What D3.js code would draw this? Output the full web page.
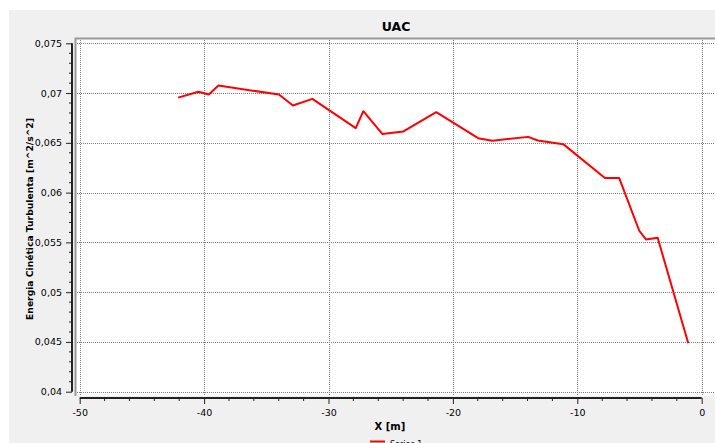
<!DOCTYPE html>
<html>
<head>
<meta charset="utf-8">
<script src="https://cdn.jsdelivr.net/npm/d3@7"></script>
<style>
  body { margin: 0; background: #fff; }
  svg { display: block; }
  text { font-family: "DejaVu Sans", Verdana, sans-serif; fill: #000; }
</style>
</head>
<body>
<div id="chart"></div>
<script>
// Series 1
var xValues = [-42.09, -40.46, -39.62, -38.85, -33.98, -32.86, -31.30, -27.81, -27.20, -25.68,
               -23.98, -21.34, -17.97, -16.83, -13.95, -13.17, -11.13, -7.78, -6.63, -5.02,
               -4.48, -3.54, -1.08];
var yValues = [0.06954, 0.07014, 0.06986, 0.07075, 0.06985, 0.06875, 0.06942, 0.06648, 0.06818, 0.06589,
               0.06615, 0.06808, 0.06547, 0.06522, 0.06560, 0.06523, 0.06487, 0.06146, 0.06146, 0.05617,
               0.05530, 0.05546, 0.04486];
var xTicks = [-50, -40, -30, -20, -10, 0];
var yTicks = [0.04, 0.045, 0.05, 0.055, 0.06, 0.065, 0.07, 0.075];
var xMinor = [-48, -46, -44, -42, -38, -36, -34, -32, -28, -26, -24, -22, -18, -16, -14, -12, -8, -6, -4, -2];
var yMinor = [0.041, 0.042, 0.043, 0.044, 0.046, 0.047, 0.048, 0.049, 0.051, 0.052, 0.053, 0.054,
              0.056, 0.057, 0.058, 0.059, 0.061, 0.062, 0.063, 0.064, 0.066, 0.067, 0.068, 0.069,
              0.071, 0.072, 0.073, 0.074];

var width = 715, height = 443;

var svg = d3.select("#chart").append("svg")
    .attr("width", width)
    .attr("height", height);

// grey panel
svg.append("rect")
    .attr("x", 9).attr("y", 10)
    .attr("width", width - 9).attr("height", height - 10)
    .attr("fill", "#f0f0f0");

// plot area
svg.append("rect")
    .attr("x", 76).attr("y", 39)
    .attr("width", 640).attr("height", 357)
    .attr("fill", "#fff");
svg.append("path")
    .attr("d", "M75.5,396V38.5H716")
    .attr("fill", "none")
    .attr("stroke", "#999")
    .attr("stroke-width", 2);

var x = d3.scaleLinear().domain([-50, 0]).range([79.7, 701.7]);
var y = d3.scaleLinear().domain([0.04, 0.075]).range([391.7, 43.3]);

function comma(d) {
    return String(+d.toFixed(3)).replace(".", ",");
}

// grid
svg.append("g").selectAll("line")
    .data(xTicks)
    .enter().append("line")
    .attr("x1", d => Math.round(x(d)) + 0.5).attr("x2", d => Math.round(x(d)) + 0.5)
    .attr("y1", 40).attr("y2", 396)
    .attr("stroke", "#7a7a7a")
    .attr("stroke-dasharray", "1,1");
svg.append("g").selectAll("line")
    .data(yTicks)
    .enter().append("line")
    .attr("y1", d => Math.round(y(d)) + 0.5).attr("y2", d => Math.round(y(d)) + 0.5)
    .attr("x1", 77).attr("x2", 715)
    .attr("stroke", "#7a7a7a")
    .attr("stroke-dasharray", "1,1");

// y axis
var yAxis = svg.append("g")
    .attr("transform", "translate(72,0)")
    .call(d3.axisLeft(y).tickValues(yTicks).tickSize(6).tickPadding(4).tickFormat(comma));
yAxis.append("g").selectAll("line")
    .data(yMinor)
    .enter().append("line")
    .attr("x1", -3).attr("x2", 0)
    .attr("y1", d => y(d)).attr("y2", d => y(d))
    .attr("stroke", "#222");
yAxis.select(".domain").attr("d", "M0," + y(0.075) + "V" + y(0.04)).attr("stroke", "#222").attr("stroke-width", 2);
yAxis.selectAll(".tick line").attr("stroke", "#222");
yAxis.selectAll("text").attr("font-size", "9.5px").attr("font-family", "DejaVu Sans").attr("fill", "#000");

// x axis
var xAxis = svg.append("g")
    .attr("transform", "translate(0,398)")
    .call(d3.axisBottom(x).tickValues(xTicks).tickSize(6).tickPadding(5).tickFormat(d => String(d)));
xAxis.append("g").selectAll("line")
    .data(xMinor)
    .enter().append("line")
    .attr("x1", d => x(d)).attr("x2", d => x(d))
    .attr("y1", 0).attr("y2", 3)
    .attr("stroke", "#222");
xAxis.select(".domain").attr("d", "M" + x(-50) + ",0H" + x(0)).attr("stroke", "#222").attr("stroke-width", 2);
xAxis.selectAll(".tick line").attr("stroke", "#222");
xAxis.selectAll("text").attr("font-size", "9.5px").attr("font-family", "DejaVu Sans").attr("fill", "#000");

// series
var points = xValues.map((v, i) => [v, yValues[i]]);
svg.append("path")
    .datum(points)
    .attr("fill", "none")
    .attr("stroke", "#ff0000")
    .attr("stroke-width", 2)
    .attr("stroke-linejoin", "round")
    .attr("d", d3.line().x(d => x(d[0])).y(d => y(d[1])));

// titles
svg.append("text")
    .attr("x", 396).attr("y", 31)
    .attr("text-anchor", "middle")
    .attr("font-size", "12.5px")
    .attr("font-weight", "bold")
    .text("UAC");

svg.append("text")
    .attr("transform", "translate(33,219) rotate(-90)")
    .attr("text-anchor", "middle")
    .attr("font-size", "9.2px")
    .attr("font-weight", "bold")
    .text("Energia Cinética Turbulenta [m^2/s^2]");

svg.append("text")
    .attr("x", 390).attr("y", 430)
    .attr("text-anchor", "middle")
    .attr("font-size", "10px")
    .attr("font-weight", "bold")
    .text("X [m]");

// legend (cut off at bottom, as in the source)
svg.append("line")
    .attr("x1", 370).attr("x2", 385)
    .attr("y1", 441.5).attr("y2", 441.5)
    .attr("stroke", "#ff0000")
    .attr("stroke-width", 2);
svg.append("text")
    .attr("x", 390).attr("y", 447)
    .attr("font-size", "8px")
    .text("Series 1");
</script>
</body>
</html>
